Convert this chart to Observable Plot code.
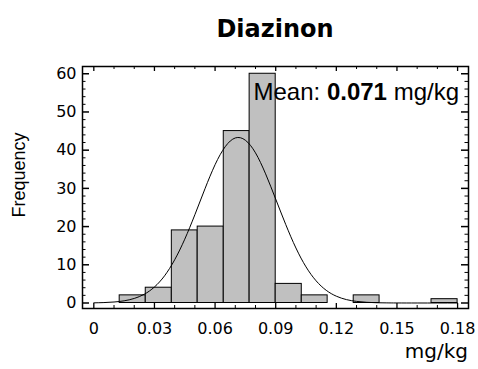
<!DOCTYPE html>
<html>
<head>
<meta charset="utf-8">
<script src="https://cdn.jsdelivr.net/npm/d3@7"></script>
<script src="https://cdn.jsdelivr.net/npm/@observablehq/plot@0.6"></script>
<style>
  html, body { margin: 0; padding: 0; background: #fff; }
</style>
</head>
<body>
<div id="chart"></div>
<script>
// Histogram bins (mg/kg) and counts
const binStarts = [0.0128, 0.0257, 0.0386, 0.0514, 0.0643, 0.0771, 0.0900, 0.1029, 0.1157, 0.1286, 0.1414, 0.1543, 0.1671];
const binEnds   = [0.0257, 0.0386, 0.0514, 0.0643, 0.0771, 0.0900, 0.1029, 0.1157, 0.1286, 0.1414, 0.1543, 0.1671, 0.1800];
const binCounts = [2, 4, 19, 20, 45, 60, 5, 2, 0, 2, 0, 0, 1];

// Fitted normal curve
const curveX = [0, 0.005, 0.01, 0.015, 0.02, 0.025, 0.03, 0.035, 0.04, 0.045, 0.05, 0.055, 0.06, 0.065, 0.07, 0.075, 0.08, 0.085, 0.09, 0.095, 0.10, 0.105, 0.11, 0.115, 0.12, 0.125, 0.13, 0.135, 0.14, 0.145, 0.15, 0.16, 0.17, 0.18];
const curveY = [0.04, 0.11, 0.26, 0.57, 1.19, 2.30, 4.19, 7.11, 11.3, 16.7, 23.1, 29.9, 36.2, 40.9, 43.2, 42.6, 39.3, 33.8, 27.2, 20.5, 14.4, 9.45, 5.80, 3.32, 1.78, 0.89, 0.42, 0.18, 0.07, 0.03, 0.01, 0, 0, 0];

// Tick values
const xTickLabels = [0, 0.03, 0.06, 0.09, 0.12, 0.15, 0.18];
const xMinorTicks = [0.01, 0.02, 0.04, 0.05, 0.07, 0.08, 0.10, 0.11, 0.13, 0.14, 0.16, 0.17];
const yTickLabels = [0, 10, 20, 30, 40, 50, 60];
const yMinorTicks = [2, 4, 6, 8, 12, 14, 16, 18, 22, 24, 26, 28, 32, 34, 36, 38, 42, 44, 46, 48, 52, 54, 56, 58];

const bins = binStarts.map((s, i) => ({x1: s, x2: binEnds[i], count: binCounts[i]})).filter(d => d.count > 0);
const curve = curveX.map((x, i) => ({x, y: curveY[i]}));

const W = 478, H = 369;
const mL = 82, mR = 10, mT = 66, mB = 61;
const innerW = W - mL - mR, innerH = H - mT - mB;

const svg = Plot.plot({
  width: W,
  height: H,
  marginLeft: mL,
  marginRight: mR,
  marginTop: mT,
  marginBottom: mB,
  style: {fontFamily: "DejaVu Sans", fontSize: "16px", color: "black", background: "white"},
  x: {domain: [-0.0056, 0.1854], axis: null},
  y: {domain: [-1.44, 61.9], axis: null},
  marks: [
    Plot.rectY(bins, {x1: "x1", x2: "x2", y: "count", fill: "#c0c0c0", stroke: "black", strokeWidth: 1}),
    Plot.line(curve, {x: "x", y: "y", stroke: "black", strokeWidth: 1, curve: "natural"}),
    // inward ticks: bottom & top
    Plot.tickX(xTickLabels, {x: d => d, insetTop: innerH - 5, stroke: "black", strokeWidth: 1.3}),
    Plot.tickX(xMinorTicks, {x: d => d, insetTop: innerH - 3, stroke: "black", strokeWidth: 1}),
    Plot.tickX(xTickLabels, {x: d => d, insetBottom: innerH - 5, stroke: "black", strokeWidth: 1.3}),
    Plot.tickX(xMinorTicks, {x: d => d, insetBottom: innerH - 3, stroke: "black", strokeWidth: 1}),
    // inward ticks: left & right
    Plot.tickY(yTickLabels, {y: d => d, insetRight: innerW - 7, stroke: "black", strokeWidth: 1.5}),
    Plot.tickY(yMinorTicks, {y: d => d, insetRight: innerW - 3.5, stroke: "black", strokeWidth: 1}),
    Plot.tickY(yTickLabels, {y: d => d, insetLeft: innerW - 7, stroke: "black", strokeWidth: 1.5}),
    Plot.tickY(yMinorTicks, {y: d => d, insetLeft: innerW - 3.5, stroke: "black", strokeWidth: 1}),
    Plot.axisX(xTickLabels, {tickSize: 0, tickPadding: 14, fontSize: 16, tickFormat: d => d === 0 ? "0" : d.toFixed(2)}),
    Plot.axisY(yTickLabels, {tickSize: 0, tickPadding: 6, fontSize: 16, tickFormat: d => String(d)}),
    Plot.frame({stroke: "black", strokeWidth: 1.5})
  ]
});

const s = d3.select(svg);
s.append("text")
  .attr("x", 275).attr("y", 37)
  .attr("text-anchor", "middle")
  .attr("font-family", "DejaVu Sans").attr("font-weight", "bold").attr("font-size", 24)
  .attr("fill", "black")
  .text("Diazinon");

s.append("text")
  .attr("transform", "translate(25,175) rotate(-90)")
  .attr("text-anchor", "middle")
  .attr("font-family", "Liberation Sans").attr("font-size", 18)
  .attr("fill", "black")
  .text("Frequency");

s.append("text")
  .attr("x", 468).attr("y", 358)
  .attr("text-anchor", "end")
  .attr("font-family", "DejaVu Sans").attr("font-size", 20)
  .attr("fill", "black")
  .text("mg/kg");

const mean = s.append("text")
  .attr("x", 459).attr("y", 100)
  .attr("text-anchor", "end")
  .attr("font-family", "Liberation Sans").attr("font-size", 24)
  .attr("fill", "black");
mean.append("tspan").text("Mean: ");
mean.append("tspan").attr("font-weight", "bold").text("0.071");
mean.append("tspan").text(" mg/kg");

document.getElementById("chart").appendChild(svg);
</script>
</body>
</html>
